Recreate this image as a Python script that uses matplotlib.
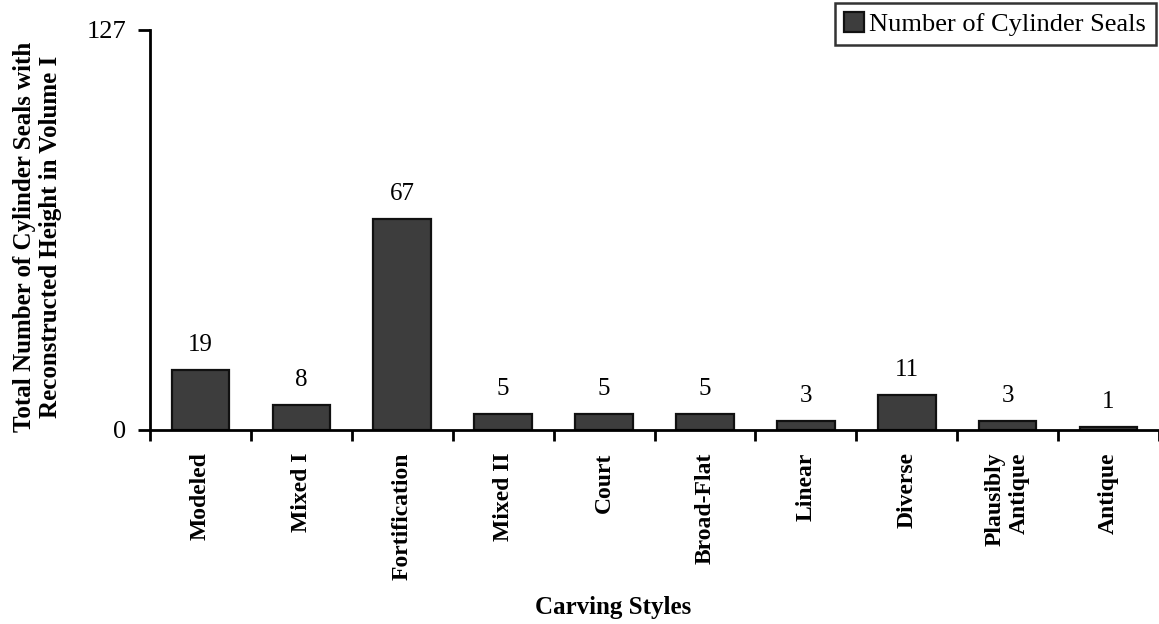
import matplotlib.pyplot as plt
import numpy as np

plt.rcParams['font.family'] = ['Liberation Serif', 'DejaVu Serif']

styles = ["Modeled", "Mixed I", "Fortification", "Mixed II", "Court",
          "Broad-Flat", "Linear", "Diverse", "Plausibly\nAntique", "Antique"]
seals = [19, 8, 67, 5, 5, 5, 3, 11, 3, 1]

fig = plt.figure(figsize=(11.59, 6.24), dpi=100)
ax = fig.add_axes([150 / 1159, 194 / 624, 1009 / 1159, 400 / 624])

x = np.arange(len(styles))
bars = ax.bar(x, seals, width=0.57, color='#3d3d3d', edgecolor='#111111',
              linewidth=1.6, label='Number of Cylinder Seals', zorder=2)

for xi, v in zip(x, seals):
    ax.annotate(str(v), (xi, v), xytext=(0, 10), textcoords='offset points',
                ha='center', va='bottom', fontsize=18)

ax.set_xlim(-0.5, len(styles) - 0.5)
ax.set_ylim(0, 127)
ax.set_yticks([0, 127])
ax.set_yticklabels(["0", "127"], fontsize=19)

# category labels sit between the boundary ticks
ax.set_xticks(np.arange(len(styles) + 1) - 0.5)
ax.set_xticklabels([])
ax.set_xticks(x, minor=True)
ax.set_xticklabels(styles, minor=True, rotation=90, fontsize=17,
                   fontweight='bold', ha='center', va='top',
                   multialignment='right')
ax.tick_params(axis='x', which='minor', length=0, pad=16)
ax.tick_params(axis='x', which='major', direction='out', length=8, width=2)
ax.tick_params(axis='y', direction='out', length=9, width=2, pad=8)

for side in ['top', 'right']:
    ax.spines[side].set_visible(False)
for side in ['left', 'bottom']:
    ax.spines[side].set_linewidth(2)

ax.set_xlabel("Carving Styles", fontsize=18, fontweight='bold')
ax.xaxis.set_label_coords(0.459, -0.415)
ax.set_ylabel("Total Number of Cylinder Seals with\nReconstructed Height in Volume I",
              fontsize=18, fontweight='bold')
ax.yaxis.set_label_coords(-0.087, 0.4825)

leg = fig.legend(loc='upper right', bbox_to_anchor=(0.997, 0.995), fontsize=19,
                 frameon=True, fancybox=False, handlelength=0.75, handleheight=0.75,
                 handletextpad=0.2, borderpad=0.35, borderaxespad=0)
leg.get_frame().set_edgecolor('black')
leg.get_frame().set_linewidth(1.8)

fig.savefig("out.png", dpi=100)
